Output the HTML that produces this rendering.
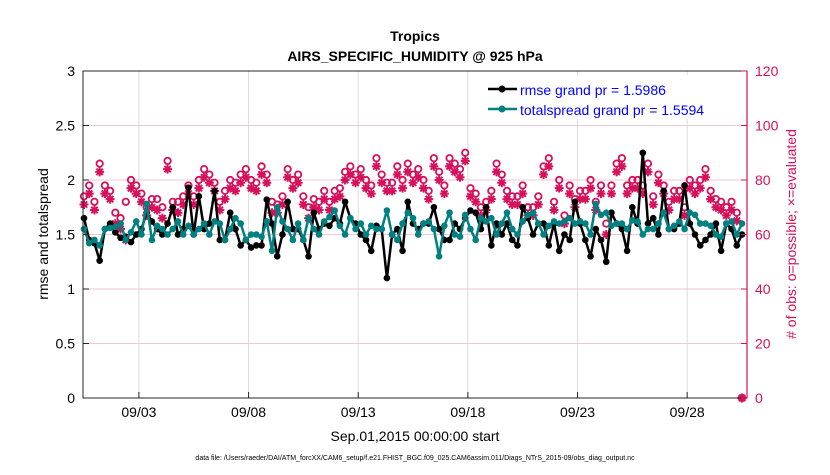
<!DOCTYPE html>
<html><head><meta charset="utf-8"><style>
body{margin:0;background:#fff;}
svg text{font-family:"Liberation Sans",sans-serif;}
</style></head><body>
<svg id="chart" width="830" height="470" viewBox="0 0 830 470" xmlns="http://www.w3.org/2000/svg">
<rect width="830" height="470" fill="#fff"/>
<rect x="83" y="71" width="664" height="327" fill="#fff"/>
<g id="grid"></g>
<g id="marks"></g>
<g id="axes"></g>
<text x="415" y="41" text-anchor="middle" font-size="14" font-weight="bold">Tropics</text>
<text x="415" y="61" text-anchor="middle" font-size="14" font-weight="bold">AIRS_SPECIFIC_HUMIDITY @ 925 hPa</text>
<text transform="translate(48,234) rotate(-90)" text-anchor="middle" font-size="14">rmse and totalspread</text>
<text transform="translate(796,234) rotate(-90)" text-anchor="middle" font-size="14" fill="#d6105a"># of obs: o=possible; &#215;=evaluated</text>
<text x="415" y="441" text-anchor="middle" font-size="14">Sep.01,2015 00:00:00 start</text>
<text x="415" y="460" text-anchor="middle" font-size="7">data file: /Users/raeder/DAI/ATM_forcXX/CAM6_setup/f.e21.FHIST_BGC.f09_025.CAM6assim.011/Diags_NTrS_2015-09/obs_diag_output.nc</text>
<g id="legend">
<rect x="472" y="75" width="272" height="44" fill="#fff"/>
<line x1="488" y1="89" x2="517" y2="89" stroke="#000" stroke-width="2.5"/><circle cx="502" cy="89" r="3.5" fill="#000"/>
<text x="520" y="95" font-size="14" fill="#0000ff">rmse grand pr = 1.5986</text>
<line x1="488" y1="109" x2="517" y2="109" stroke="#008080" stroke-width="2.5"/><circle cx="502" cy="109" r="3.5" fill="#008080"/>
<text x="520" y="115" font-size="14" fill="#0000ff">totalspread grand pr = 1.5594</text>
</g>
</svg>
<script>
const rmse=[1.65,1.45,1.42,1.26,1.55,1.6,1.52,1.47,1.48,1.43,1.5,1.55,1.7,1.62,1.55,1.5,1.6,1.75,1.5,1.55,1.93,1.5,1.85,1.55,1.6,1.9,1.45,1.45,1.7,1.55,1.4,1.45,
1.38,1.4,1.4,1.82,1.6,1.3,1.5,1.8,1.55,1.55,1.45,1.3,1.7,1.55,1.6,1.58,1.65,1.6,1.8,1.65,1.6,1.5,1.45,1.35,1.58,1.55,1.1,1.5,1.55,1.35,1.8,1.6,1.55,1.6,
1.6,1.75,1.55,1.45,1.45,1.6,1.55,1.65,1.72,1.7,1.55,1.75,1.4,1.6,1.5,1.6,1.45,1.4,1.75,1.65,1.5,1.6,1.6,1.4,1.6,1.35,1.5,1.45,1.8,1.6,1.45,1.3,1.55,
1.45,1.25,1.7,1.6,1.55,1.35,1.75,1.6,2.25,1.6,1.65,1.5,1.9,1.55,1.55,1.6,1.95,1.6,1.5,1.4,1.45,1.5,1.6,1.35,1.6,1.55,1.4,1.5];
const spread=[1.55,1.42,1.45,1.4,1.55,1.56,1.57,1.6,1.45,1.52,1.62,1.5,1.78,1.45,1.58,1.55,1.5,1.55,1.62,1.5,1.58,1.5,1.55,1.6,1.5,1.62,1.6,1.45,1.55,1.65,1.6,1.45,
1.5,1.5,1.48,1.62,1.35,1.75,1.62,1.55,1.45,1.6,1.45,1.65,1.55,1.5,1.62,1.66,1.72,1.58,1.5,1.65,1.55,1.6,1.5,1.58,1.55,1.55,1.72,1.5,1.45,1.6,1.7,1.65,1.5,1.6,
1.62,1.55,1.3,1.58,1.7,1.5,1.48,1.68,1.55,1.45,1.65,1.62,1.65,1.5,1.6,1.7,1.55,1.5,1.62,1.68,1.7,1.6,1.5,1.58,1.62,1.6,1.62,1.65,1.6,1.62,1.6,1.5,1.78,
1.68,1.7,1.58,1.6,1.6,1.55,1.63,1.62,1.5,1.55,1.55,1.6,1.7,1.55,1.58,1.62,1.55,1.7,1.68,1.6,1.6,1.58,1.5,1.48,1.6,1.62,1.5,1.6];
const obsPossible=[74,78,72,86,78,76,68,66,72,80,78,75,70,73,73,70,87,72,72,74,78,74,80,84,82,79,72,76,80,79,82,84,
80,79,85,82,72,71,74,84,80,82,74,70,73,72,76,72,76,77,83,85,82,84,80,78,88,82,79,79,85,80,86,82,84,80,
76,88,83,78,88,86,84,90,77,75,70,72,76,86,82,76,74,74,78,70,70,74,85,88,72,80,67,78,73,76,76,80,72,
78,64,78,86,88,78,80,80,78,86,74,82,78,72,76,76,70,80,78,80,84,76,73,72,70,72,68,0];
const obsEvaluated=[71,75,69,83,75,73,64,62,58,77,75,72,67,70,69,66,84,69,68,71,75,71,77,81,79,76,69,73,77,76,79,81,
77,76,82,79,68,68,71,81,77,79,71,66,70,69,73,69,73,74,80,82,79,81,77,75,85,79,76,76,82,77,83,79,81,77,
73,85,80,75,85,83,81,87,74,72,67,69,73,83,79,73,71,71,75,67,67,71,82,85,69,77,64,75,70,73,73,77,69,
75,60,75,83,85,75,77,77,75,83,71,79,75,69,73,73,67,77,75,77,81,73,70,69,67,69,65,0];
const tickLabels=["09/03","09/08","09/13","09/18","09/23","09/28"];
const tickDays=[2.55,7.55,12.55,17.55,22.55,27.55];
const yTicks=[0,0.5,1,1.5,2,2.5,3];
const y2Ticks=[0,20,40,60,80,100,120];

const NS="http://www.w3.org/2000/svg";
const L=83,R=747,T=71,B=398;
const xs=d=>L+d*21.93;
const xi=(i,n)=>84+i*(658/(n-1));
const ys=v=>B-(v/3)*(B-T);
const ys2=v=>B-(v/120)*(B-T);
function mk(tag,at,parent){const e=document.createElementNS(NS,tag);for(const k in at)e.setAttribute(k,at[k]);document.getElementById(parent).appendChild(e);return e;}
tickDays.forEach(d=>{const g=mk('line',{x1:xs(d),x2:xs(d),y1:T,y2:B,stroke:'#dcdcdc','stroke-width':1},'grid');

});
y2Ticks.forEach(v=>{const g=mk('line',{x1:L,x2:R,y1:ys2(v),y2:ys2(v),stroke:'#f3c6d6','stroke-width':1},'grid');

});
obsPossible.forEach((v,i)=>{const c=mk('circle',{cx:xi(i,obsPossible.length),cy:ys2(v),r:3.2,fill:'none',stroke:'#d6105a','stroke-width':1.8},'marks');

});
obsEvaluated.forEach((v,i)=>{const x=xi(i,obsEvaluated.length),y=ys2(v),s=4.5,d=3.2;
 const p=mk('path',{d:`M${x-s},${y}H${x+s}M${x},${y-s}V${y+s}M${x-d},${y-d}L${x+d},${y+d}M${x-d},${y+d}L${x+d},${y-d}`,stroke:'#d6105a','stroke-width':2,fill:'none'},'marks');
 
 });
function series(arr,color,name){
 const pts=arr.map((v,i)=>xi(i,arr.length)+','+ys(v)).join(' ');
 const p=mk('polyline',{points:pts,fill:'none',stroke:color,'stroke-width':2.5,'stroke-linejoin':'round'},'marks');
 
 
 arr.forEach((v,i)=>{const c=mk('circle',{cx:xi(i,arr.length),cy:ys(v),r:3.3,fill:color},'marks');
 
 });
}
series(rmse,'#000','rmse');
series(spread,'#008080','totalspread');
const f=mk('rect',{x:L,y:T,width:R-L,height:B-T,fill:'none',stroke:'#262626','stroke-width':1},'axes');


const rl=mk('line',{x1:R,x2:R,y1:T,y2:B,stroke:'#d6105a','stroke-width':1.2},'axes');


yTicks.forEach(v=>{mk('line',{x1:L,x2:L+6,y1:ys(v),y2:ys(v),stroke:'#262626'},'axes');
 const t=mk('text',{x:L-8,y:ys(v)+5,'text-anchor':'end','font-size':14},'axes');t.textContent=v;
 
 });
y2Ticks.forEach(v=>{mk('line',{x1:R-6,x2:R,y1:ys2(v),y2:ys2(v),stroke:'#d6105a'},'axes');
 const t=mk('text',{x:R+8,y:ys2(v)+5,'font-size':14,fill:'#d6105a'},'axes');t.textContent=v;
 
 });
tickDays.forEach((d,i)=>{mk('line',{x1:xs(d),x2:xs(d),y1:B,y2:B-6,stroke:'#262626'},'axes');
 const t=mk('text',{x:xs(d),y:B+19,'text-anchor':'middle','font-size':14},'axes');t.textContent=tickLabels[i];
 
 });
</script>
</body></html>
